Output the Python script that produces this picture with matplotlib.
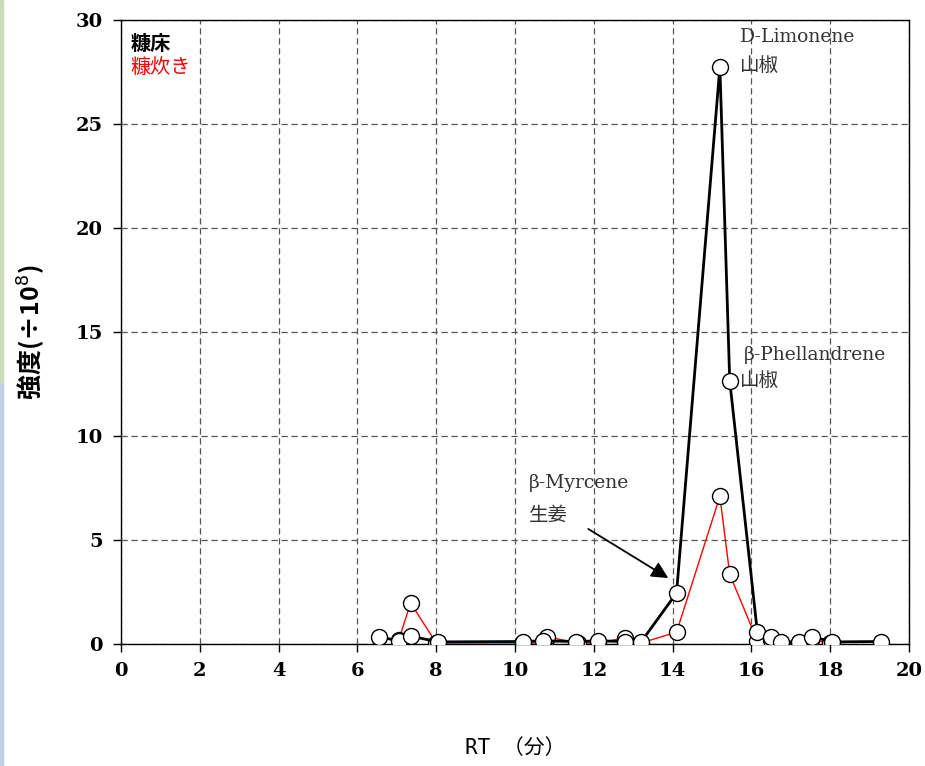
import matplotlib
matplotlib.use("Agg")
import matplotlib.pyplot as plt
from matplotlib.patches import Rectangle

# Data
nukadoko_x = [6.55, 7.05, 7.35, 8.05, 10.2, 10.7, 11.55, 12.1, 12.8, 13.2, 14.1, 15.2, 15.45, 16.15, 16.5, 16.75, 17.2, 17.55, 18.05, 19.3]
nukadoko_y = [0.35, 0.15, 0.38, 0.1, 0.12, 0.15, 0.12, 0.15, 0.12, 0.1, 2.45, 27.75, 12.65, 0.6, 0.35, 0.1, 0.1, 0.35, 0.1, 0.12]
nukadaki_x = [7.05, 7.35, 8.0, 10.2, 10.75, 10.8, 11.6, 12.1, 12.8, 13.2, 14.1, 15.2, 15.45, 16.15, 16.5, 16.7, 17.2, 17.5, 18.0]
nukadaki_y = [0.2, 1.97, 0.05, 0.05, 0.05, 0.35, 0.05, 0.05, 0.3, 0.05, 0.57, 7.1, 3.35, 0.15, 0.2, 0.05, 0.05, 0.2, 0.05]
series_names = ["糠床", "糠炊き"]
x_ticks = [0, 2, 4, 6, 8, 10, 12, 14, 16, 18, 20]
y_ticks = [0, 5, 10, 15, 20, 25, 30]

serif = ["DejaVu Serif", "Noto Sans CJK JP"]
cjk = ["Noto Sans CJK JP", "DejaVu Sans"]

fig = plt.figure(figsize=(9.25, 7.66), dpi=100)
ax = fig.add_axes([121/925, 1-644/766, (909-121)/925, (644-20)/766])

# left decorative stripe
fig.patches.append(Rectangle((0, 0.5), 3/925, 0.5, transform=fig.transFigure, color="#c9dcb8", zorder=0))
fig.patches.append(Rectangle((0, 0), 3/925, 0.5, transform=fig.transFigure, color="#c3cfe6", zorder=0))

ax.plot(nukadaki_x, nukadaki_y, color="red", lw=1.0, marker="o", ms=11.5,
        mfc="white", mec="black", mew=1.0, zorder=3)
ax.plot(nukadoko_x, nukadoko_y, color="black", lw=2.0, marker="o", ms=11.5,
        mfc="white", mec="black", mew=1.0, zorder=4)

ax.set_xlim(0, 20)
ax.set_ylim(0, 30)
ax.set_xticks(x_ticks)
ax.set_yticks(y_ticks)
ax.grid(True, color="#555555", ls=(0, (5, 3)), lw=0.9)
ax.set_axisbelow(True)
for s in ax.spines.values():
    s.set_color("black")
    s.set_linewidth(1.0)
ax.tick_params(direction="out", length=6, width=1, labelsize=14, pad=7)
for lab in ax.get_xticklabels() + ax.get_yticklabels():
    lab.set_fontfamily(serif)
    lab.set_fontweight("bold")

ax.set_xlabel("RT （分）", fontsize=15, family=["DejaVu Sans Mono", "Noto Sans CJK JP"], labelpad=42)
ax.set_ylabel("強度(÷10$^8$)", fontsize=18, family=cjk, fontweight="bold", labelpad=20)

ax.text(0.012, 0.962, series_names[0], transform=ax.transAxes, fontsize=14.5,
        family=cjk, fontweight="bold", color="black", va="center")
ax.text(0.012, 0.922, series_names[1], transform=ax.transAxes, fontsize=14.5,
        family=cjk, color="red", va="center")

ann_col = "#333333"
ax.text(15.7, 29.2, "D-Limonene", fontsize=13.5, family=serif, color=ann_col, va="center")
ax.text(15.7, 27.8, "山椒", fontsize=14, family=cjk, color=ann_col, va="center")
ax.text(15.8, 13.9, "β-Phellandrene", fontsize=13.5, family=serif, color=ann_col, va="center")
ax.text(15.7, 12.65, "山椒", fontsize=14, family=cjk, color=ann_col, va="center")
ax.text(10.35, 7.75, "β-Myrcene", fontsize=13.5, family=serif, color=ann_col, va="center")
ax.text(10.35, 6.2, "生姜", fontsize=14, family=cjk, color=ann_col, va="center")
ax.annotate("", xy=(13.95, 3.1), xytext=(11.8, 5.6),
            arrowprops=dict(arrowstyle="-|>,head_length=1.0,head_width=0.5",
                            color="black", lw=1.3))

fig.savefig("out.png", dpi=100)
